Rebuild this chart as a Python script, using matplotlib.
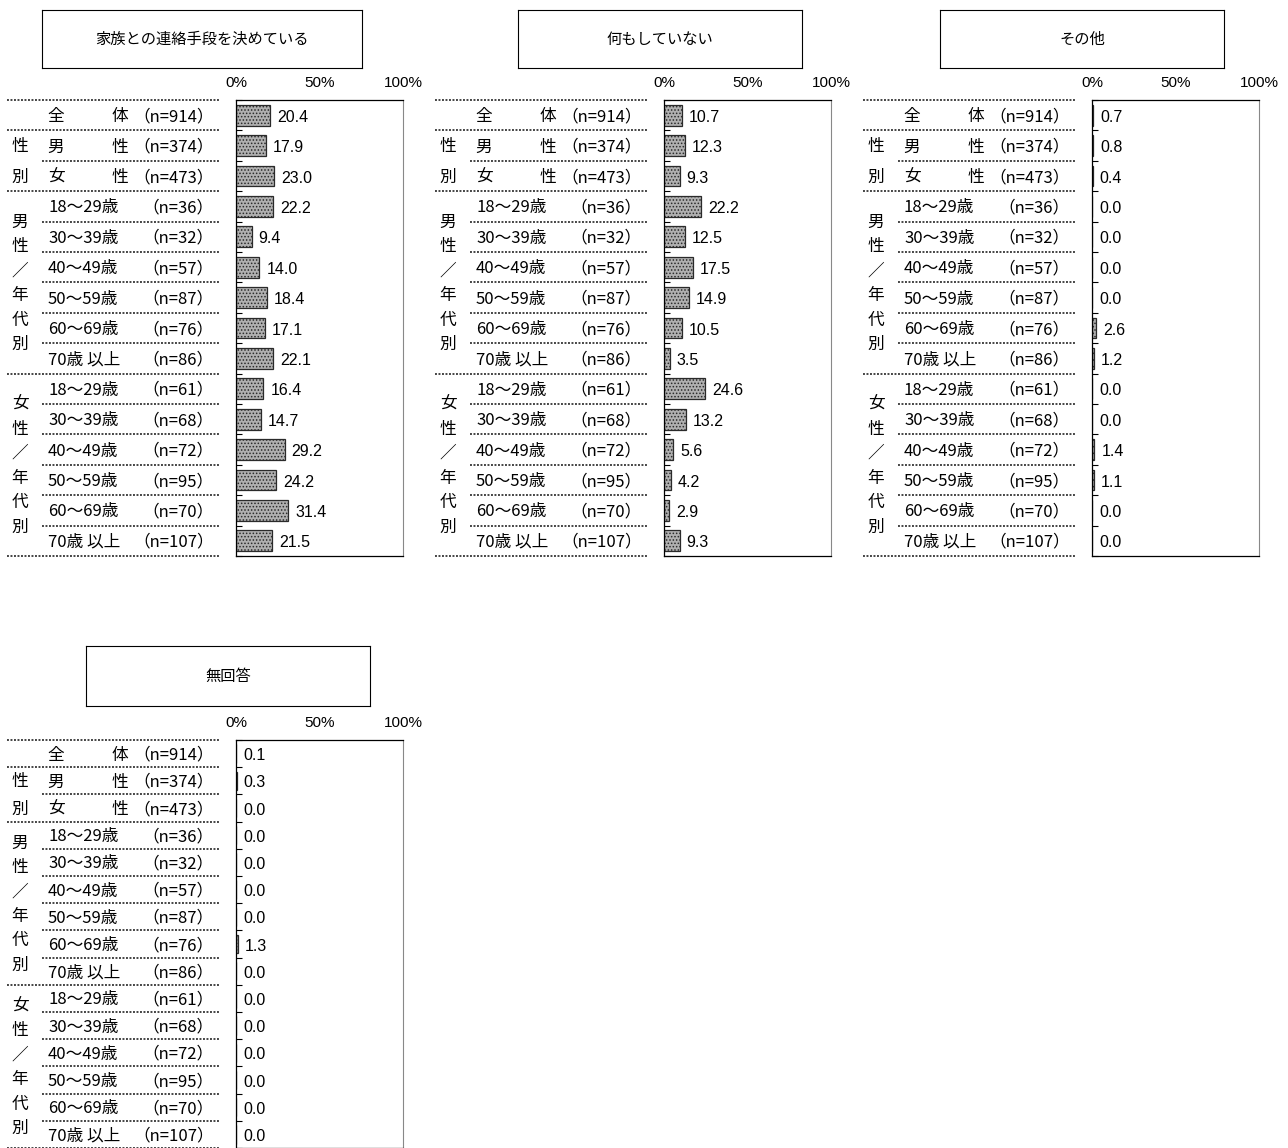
import numpy as np
import matplotlib
matplotlib.use("Agg")
import matplotlib.pyplot as plt

plt.rcParams['font.family'] = ['Noto Sans CJK JP', 'DejaVu Sans']
plt.rcParams['hatch.linewidth'] = 0.7

# データ
row_names = ['全体', '男性', '女性',
             '18～29歳', '30～39歳', '40～49歳', '50～59歳', '60～69歳', '70歳 以上',
             '18～29歳', '30～39歳', '40～49歳', '50～59歳', '60～69歳', '70歳 以上']
n_counts = [914, 374, 473, 36, 32, 57, 87, 76, 86, 61, 68, 72, 95, 70, 107]
group_names = ['性別', '男性／年代別', '女性／年代別']
group_rows = [(1, 3), (3, 9), (9, 15)]

titles = ['家族との連絡手段を決めている', '何もしていない', 'その他', '無回答']
v_contact = [20.4, 17.9, 23.0, 22.2, 9.4, 14.0, 18.4, 17.1, 22.1, 16.4, 14.7, 29.2, 24.2, 31.4, 21.5]
v_nothing = [10.7, 12.3, 9.3, 22.2, 12.5, 17.5, 14.9, 10.5, 3.5, 24.6, 13.2, 5.6, 4.2, 2.9, 9.3]
v_other = [0.7, 0.8, 0.4, 0.0, 0.0, 0.0, 0.0, 2.6, 1.2, 0.0, 0.0, 1.4, 1.1, 0.0, 0.0]
v_noans = [0.1, 0.3, 0.0, 0.0, 0.0, 0.0, 0.0, 1.3, 0.0, 0.0, 0.0, 0.0, 0.0, 0.0, 0.0]
values = [v_contact, v_nothing, v_other, v_noans]

W, H = 1288, 1148
fig = plt.figure(figsize=(W / 100, H / 100), dpi=100)


def px_axes(left, top, width, height):
    return fig.add_axes([left / W, 1 - (top + height) / H, width / W, height / H])


# (ラベル左端, 表の上端, 表の高さ, タイトル枠 左, 上, 幅, 高さ)
layout = [
    (7, 100, 456, (42, 10, 320, 58)),
    (435, 100, 456, (518, 10, 284, 58)),
    (863, 100, 456, (940, 10, 284, 58)),
    (7, 740, 408, (86, 646, 284, 60)),
]

nrow = len(row_names)
fs = 12
num_font = ['Liberation Sans', 'DejaVu Sans']
dot = (0, (1, 0.8))

for title, vals, (x0, top, height, box) in zip(titles, values, layout):
    # タイトル枠
    tb = px_axes(*box)
    tb.set_xticks([])
    tb.set_yticks([])
    for s in tb.spines.values():
        s.set_linewidth(0.8)
    tb.text(0.5, 0.5, title, ha='center', va='center', fontsize=11, transform=tb.transAxes)

    # ラベル部分
    lab = px_axes(x0, top, 213, height)
    lab.set_xlim(0, 213)
    lab.set_ylim(nrow, 0)
    lab.axis('off')
    px = nrow / height  # 1px あたりの行数

    full = [0, 1, 3, 9, 15]
    for b in range(nrow + 1):
        xs = 0 if b in full else 35
        lab.plot([xs, 213], [b, b], ls=dot, color='#444444', lw=1.4, clip_on=False)

    for i, (name, n) in enumerate(zip(row_names, n_counts)):
        yc = i + 0.5 + 1.5 * px
        if len(name) == 2:
            lab.text(49, yc, name[0], ha='center', va='center', fontsize=fs)
            lab.text(113, yc, name[1], ha='center', va='center', fontsize=fs)
        else:
            lab.text(41, yc, name, ha='left', va='center', fontsize=fs)
        lab.text(207, yc, f'（n={n}）', ha='right', va='center', fontsize=fs)

    for gname, (r0, r1) in zip(group_names, group_rows):
        center = (r0 + r1) / 2
        step = 1.0 if len(gname) == 2 else 24.5 * px
        for k, ch in enumerate(gname):
            lab.text(13, center + (k - (len(gname) - 1) / 2) * step + 1 * px, ch,
                     ha='center', va='center', fontsize=fs)

    # 棒グラフ
    ax = px_axes(x0 + 229, top, 167, height)
    ypos = np.arange(nrow) + 0.5
    ax.barh(ypos, vals, height=0.68, color='#b0b0b0', edgecolor='#2a2a2a',
            hatch='.....', linewidth=0.9)
    for y, v in zip(ypos, vals):
        ax.annotate(f'{v:.1f}', (v, y), xytext=(5, -1.5), textcoords='offset points',
                    ha='left', va='center', fontsize=11.5, family=num_font)
    ax.set_xlim(0, 100)
    ax.set_ylim(nrow, 0)
    ax.xaxis.tick_top()
    ax.set_xticks([0, 50, 100])
    ax.set_xticklabels(['0%', '50%', '100%'], family=num_font)
    ax.tick_params(axis='x', length=0, pad=7, labelsize=11)
    ax.set_yticks(range(nrow + 1))
    ax.tick_params(axis='y', direction='in', length=4, labelleft=False)
    for s in ['top', 'left', 'bottom']:
        ax.spines[s].set_linewidth(0.9)
    ax.spines['right'].set_color('#888888')
    ax.spines['right'].set_linewidth(0.8)

fig.savefig('out.png', dpi=100)
